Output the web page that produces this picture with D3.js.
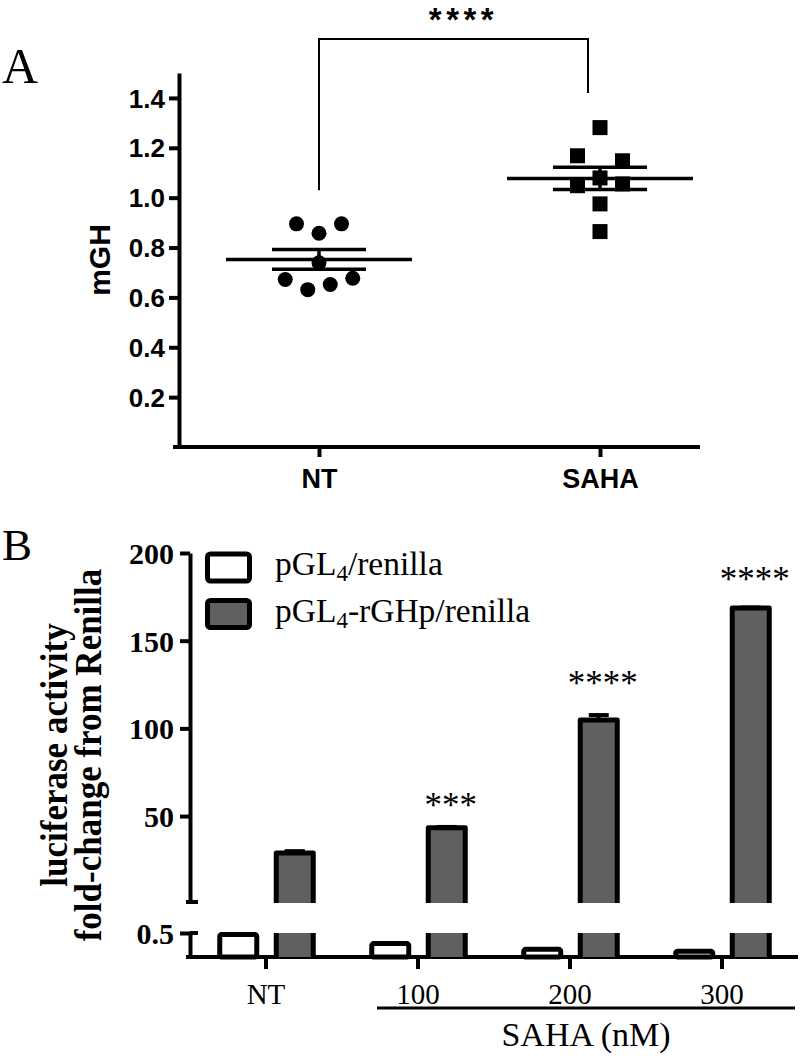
<!DOCTYPE html>
<html>
<head>
<meta charset="utf-8">
<script src="https://cdn.jsdelivr.net/npm/d3@7"></script>
<style>
  html, body { margin: 0; padding: 0; background: #fff; }
  svg { display: block; }
</style>
</head>
<body>
<script>
// ---------------- Panel A data ----------------
const aGroups = ["NT", "SAHA"];
const aNT = [0.895, 0.857, 0.895, 0.739, 0.672, 0.631, 0.652, 0.677];
const aSAHA = [1.281, 1.168, 1.148, 1.079, 1.048, 1.055, 0.975, 0.864];
// column slot of each point inside the scatter (layout slots of the dot plot)
const aNTSlots = [-1, 0, 1, 0, -1.5, -0.5, 0.5, 1.5];
const aSAHASlots = [0, -1, 1, 0, -1, 1, 0, 0];
const aTicks = [0.2, 0.4, 0.6, 0.8, 1.0, 1.2, 1.4];
const aSig = "****";

// ---------------- Panel B data ----------------
const bGroups = ["NT", "100", "200", "300"];
const bSeries = ["pGL4/renilla", "pGL4-rGHp/renilla"];
const bControl = [0.47, 0.28, 0.16, 0.12];
const bPromoter = [29.0, 43.3, 104.8, 168.6];
const bPromoterSem = [1.0, 0.5, 2.8, 0.3];
const bSig = ["", "***", "****", "****"];
const bSigY = [null, 49.5, 119, 178.3];
const bUpperTicks = [50, 100, 150, 200];
const bLowerTicks = [0.5];

const W = 805, H = 1056;
const svg = d3.select("body").append("svg").attr("width", W).attr("height", H);

const sans = "'Liberation Sans', Arial, sans-serif";
const serif = "'Liberation Serif', 'Times New Roman', serif";

// ================= PANEL A =================
svg.append("text").attr("x", 2).attr("y", 83)
  .attr("font-family", serif).attr("font-size", 50).text("A");

const ay = d3.scaleLinear().domain([0, 1.5]).range([447, 73]);
const ax = d3.scalePoint().domain(aGroups).range([319, 600]);
const axisX0 = 179;

const gAy = svg.append("g").attr("transform", `translate(${axisX0},0)`)
  .call(d3.axisLeft(ay).tickValues(aTicks).tickSize(10).tickSizeOuter(0).tickPadding(4)
    .tickFormat(d3.format(".1f")));
gAy.select(".domain").attr("stroke-width", 4).attr("stroke", "#000");
gAy.selectAll(".tick line").attr("stroke-width", 4).attr("stroke", "#000");
gAy.selectAll(".tick text").attr("font-family", sans).attr("font-weight", "bold")
  .attr("font-size", 26).attr("fill", "#000").attr("dy", "0.35em");

const gAx = svg.append("g").attr("transform", `translate(0,${ay(0)})`)
  .call(d3.axisBottom(ax).tickSize(10).tickSizeOuter(0).tickPadding(8));
gAx.select(".domain").remove();
gAx.selectAll(".tick line").attr("stroke-width", 4).attr("stroke", "#000");
gAx.selectAll(".tick text").attr("font-family", sans).attr("font-weight", "bold")
  .attr("font-size", 27).attr("fill", "#000").attr("dy", "0.85em");
svg.append("line").attr("x1", 173).attr("x2", 700).attr("y1", ay(0)).attr("y2", ay(0))
  .attr("stroke", "#000").attr("stroke-width", 4);

svg.append("text").attr("transform", `translate(110,260) rotate(-90)`)
  .attr("text-anchor", "middle").attr("font-family", sans).attr("font-weight", "bold")
  .attr("font-size", 30).text("mGH");

const slotW = 22.5;
// NT circles
svg.append("g").selectAll("circle").data(aNT).join("circle")
  .attr("cx", (d, i) => ax("NT") + aNTSlots[i] * slotW)
  .attr("cy", d => ay(d)).attr("r", 7.5).attr("fill", "#000");
// SAHA squares
svg.append("g").selectAll("rect").data(aSAHA).join("rect")
  .attr("x", (d, i) => ax("SAHA") + aSAHASlots[i] * slotW - 7.5)
  .attr("y", d => ay(d) - 7.5).attr("width", 15).attr("height", 15).attr("fill", "#000");

// mean & SEM
[[aNT, "NT"], [aSAHA, "SAHA"]].forEach(([vals, g]) => {
  const m = d3.mean(vals);
  const sem = d3.deviation(vals) / Math.sqrt(vals.length);
  const cx = ax(g);
  const gg = svg.append("g").attr("stroke", "#000").attr("stroke-width", 3.5);
  gg.append("line").attr("x1", cx - 93).attr("x2", cx + 93).attr("y1", ay(m)).attr("y2", ay(m));
  gg.append("line").attr("x1", cx - 47).attr("x2", cx + 47).attr("y1", ay(m + sem)).attr("y2", ay(m + sem));
  gg.append("line").attr("x1", cx - 47).attr("x2", cx + 47).attr("y1", ay(m - sem)).attr("y2", ay(m - sem));
  gg.append("line").attr("x1", cx).attr("x2", cx).attr("y1", ay(m + sem)).attr("y2", ay(m - sem));
});

// significance bracket
const brY = 39;
svg.append("path")
  .attr("d", `M${ax("NT")},${ay(1.03)} V${brY} H${ax("SAHA") - 12} V${ay(1.42)}`)
  .attr("fill", "none").attr("stroke", "#000").attr("stroke-width", 2);
svg.append("text").attr("x", (ax("NT") + ax("SAHA")) / 2 + 4).attr("y", 31)
  .attr("text-anchor", "middle").attr("font-family", sans).attr("font-weight", "bold")
  .attr("font-size", 33).attr("letter-spacing", 4.5).text(aSig);

// ================= PANEL B =================
svg.append("text").attr("x", 2).attr("y", 560)
  .attr("font-family", serif).attr("font-size", 45).text("B");

const bx0 = d3.scaleBand().domain(bGroups).range([190, 798]).padding(0);
const bx1 = d3.scaleBand().domain(bSeries).range([20, 133]).padding(0);
const barW = 37;
const yUp = d3.scaleLinear().domain([1, 200]).range([902, 553]);
const yLo = d3.scaleLinear().domain([0, 0.5]).range([957, 933]);
const byX = 190;
const grey = "#606060";

// Y axes
const gUp = svg.append("g").attr("transform", `translate(${byX},0)`)
  .call(d3.axisLeft(yUp).tickValues(bUpperTicks).tickSize(10).tickSizeOuter(0).tickPadding(6));
const gLo = svg.append("g").attr("transform", `translate(${byX},0)`)
  .call(d3.axisLeft(yLo).tickValues(bLowerTicks).tickSize(10).tickSizeOuter(0).tickPadding(6)
    .tickFormat(d => String(d)));
[gUp, gLo].forEach(g => {
  g.select(".domain").attr("stroke-width", 4).attr("stroke", "#000");
  g.selectAll(".tick line").attr("stroke-width", 4).attr("stroke", "#000");
  g.selectAll(".tick text").attr("font-family", serif).attr("font-weight", "bold")
    .attr("font-size", 30).attr("fill", "#000").attr("dy", "0.35em");
});
// break caps
svg.append("line").attr("x1", byX - 4).attr("x2", byX + 8).attr("y1", yUp.range()[0]).attr("y2", yUp.range()[0])
  .attr("stroke", "#000").attr("stroke-width", 4);
svg.append("line").attr("x1", byX).attr("x2", byX + 8).attr("y1", yLo.range()[1]).attr("y2", yLo.range()[1])
  .attr("stroke", "#000").attr("stroke-width", 4);

// X axis
const gBx = svg.append("g").attr("transform", `translate(0,${yLo(0)})`)
  .call(d3.axisBottom(bx0).tickSize(12).tickSizeOuter(0).tickPadding(10));
gBx.select(".domain").remove();
gBx.selectAll(".tick line").attr("stroke-width", 4).attr("stroke", "#000");
gBx.selectAll(".tick text").attr("font-family", serif)
  .attr("font-size", 29).attr("fill", "#000").attr("dy", "0.85em");
svg.append("line").attr("x1", 186).attr("x2", 798).attr("y1", yLo(0)).attr("y2", yLo(0))
  .attr("stroke", "#000").attr("stroke-width", 4);

// White (control) bars
bGroups.forEach((g, i) => {
  const cx = bx0(g) + bx1(bSeries[0]) + bx1.bandwidth() / 2;
  svg.append("rect").attr("x", cx - barW / 2).attr("y", yLo(bControl[i]))
    .attr("width", barW).attr("height", yLo(0) - yLo(bControl[i]))
    .attr("rx", 2).attr("fill", "#fff").attr("stroke", "#000").attr("stroke-width", 5);
});

// Grey (promoter) bars with broken axis
bGroups.forEach((g, i) => {
  const cx = bx0(g) + bx1(bSeries[1]) + bx1.bandwidth() / 2;
  const l = cx - barW / 2, r = cx + barW / 2;
  const top = yUp(bPromoter[i]);
  const upBot = yUp.range()[0] + 1;
  // error bar
  const eTop = yUp(bPromoter[i] + bPromoterSem[i]);
  svg.append("line").attr("x1", cx).attr("x2", cx).attr("y1", top).attr("y2", eTop)
    .attr("stroke", "#000").attr("stroke-width", 4);
  svg.append("line").attr("x1", cx - 10).attr("x2", cx + 10).attr("y1", eTop).attr("y2", eTop)
    .attr("stroke", "#000").attr("stroke-width", 4);
  // upper part
  svg.append("rect").attr("x", l).attr("y", top).attr("width", barW).attr("height", upBot - top)
    .attr("fill", grey);
  svg.append("path").attr("d", `M${l},${upBot} V${top} H${r} V${upBot}`)
    .attr("fill", "none").attr("stroke", "#000").attr("stroke-width", 5).attr("stroke-linejoin", "round");
  // lower part
  const loTop = yLo.range()[1], loBot = yLo(0);
  svg.append("rect").attr("x", l).attr("y", loTop).attr("width", barW).attr("height", loBot - loTop)
    .attr("fill", grey);
  svg.append("path").attr("d", `M${l},${loTop} V${loBot} M${r},${loTop} V${loBot}`)
    .attr("fill", "none").attr("stroke", "#000").attr("stroke-width", 5);
  // significance
  if (bSig[i]) {
    svg.append("text").attr("x", cx + 4).attr("y", yUp(bSigY[i]))
      .attr("text-anchor", "middle").attr("font-family", serif).attr("font-size", 35)
      .text(bSig[i]);
  }
});

// Y label (two lines)
const yLab = svg.append("g").attr("font-family", serif).attr("font-weight", "bold")
  .attr("font-size", 35).attr("text-anchor", "middle");
yLab.append("text").attr("transform", "translate(67,755) rotate(-90) scale(1,1.1)").text("luciferase activity");
yLab.append("text").attr("transform", "translate(101,755) rotate(-90) scale(1,1.1)").text("fold-change from Renilla");

// SAHA bracket
svg.append("line").attr("x1", bx0("100") + 35).attr("x2", 795).attr("y1", 1008).attr("y2", 1008)
  .attr("stroke", "#000").attr("stroke-width", 3);
svg.append("text").attr("x", (bx0("100") + 35 + 795) / 2).attr("y", 1046)
  .attr("text-anchor", "middle").attr("font-family", serif).attr("font-size", 34)
  .text("SAHA (nM)");

// Legend
const legY = [554, 600.5];
const legFill = ["#fff", grey];
bSeries.forEach((s, i) => {
  svg.append("rect").attr("x", 207.5).attr("y", legY[i]).attr("width", 42).attr("height", 27)
    .attr("rx", 3).attr("fill", legFill[i]).attr("stroke", "#000").attr("stroke-width", 5);
  const t = svg.append("text").attr("x", 275).attr("y", legY[i] + 21)
    .attr("font-family", serif).attr("font-size", 33.5);
  const parts = s.split("4");
  t.append("tspan").text(parts[0]);
  t.append("tspan").attr("font-size", 23).attr("dy", 6).text("4");
  t.append("tspan").attr("dy", -6).text(parts[1]);
});
</script>
</body>
</html>
